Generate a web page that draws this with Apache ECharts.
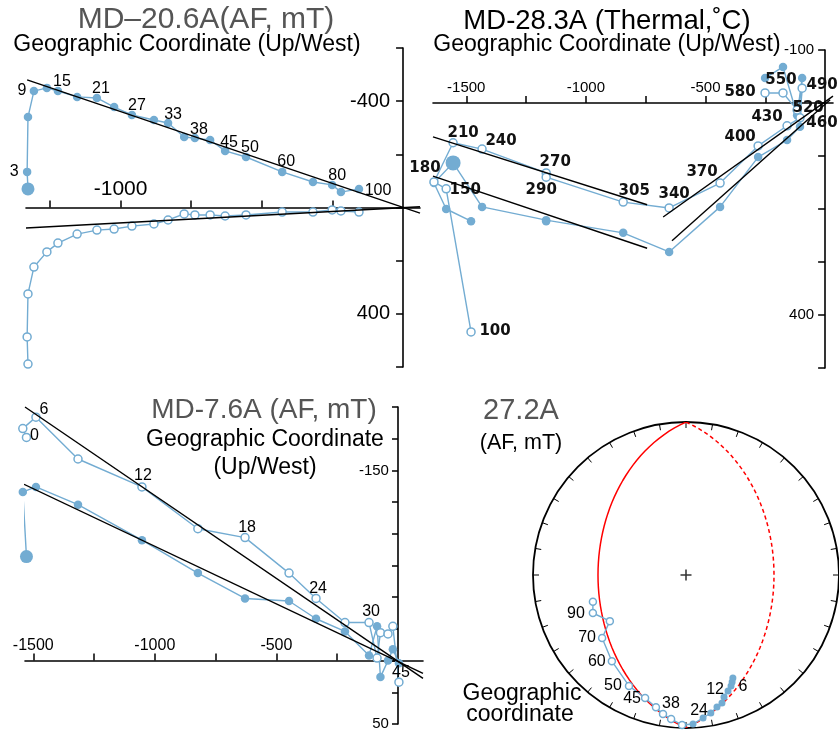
<!DOCTYPE html>
<html><head><meta charset="utf-8">
<script src="https://cdn.jsdelivr.net/npm/echarts@6/dist/echarts.min.js"></script>
<style>html,body{margin:0;padding:0;background:#fff}#c{width:839px;height:733px}</style>
</head><body><div id="c"></div>
<script>
// ---------- Panel 1: MD-20.6A (AF, mT) ----------
const p1Steps = [0,3,6,9,12,15,18,21,24,27,30,33,35,38,40,45,50,60,70,80,90,100];
const p1X = [-1328,-1331,-1328,-1307,-1261,-1222,-1154,-1084,-1023,-960,-882,-832,-775,-737,-683,-630,-556,-428,-319,-251,-220,-156];
const p1H = [-70,-134,-340,-438,-450,-438,-416,-412,-378,-348,-329,-318,-265,-261,-254,-213,-190,-134,-96,-85,-58,-70];
const p1V = [589,487,325,224,167,134,100,85,81,70,62,47,24,28,28,32,28,17,17,9,13,17];
const p1Labeled = [3,9,15,21,27,33,38,45,50,60,80,100];
const p1FitH = [[-1331,-480],[60,21]];
const p1FitV = [[-1335,77],[60,-3]];
const p1XTicks = [-1250,-1000,-750,-500,-250];
const p1XLabels = [-1000];
const p1YLabels = [-400,400];

// ---------- Panel 2: MD-28.3A (Thermal, C) ----------
const p2Steps = [100,150,180,210,240,270,290,305,340,370,400,430,460,490,520,550,580];
const p2X = [-1480,-1584,-1635,-1555,-1434,-1166,-1166,-844,-652,-439,-280,-159,-105,-96,-117,-176,-251];
const p2H = [223,200,151,113,196,221,223,245,281,196,102,70,45,-47,23,-68,-47];
const p2V = [432,162,149,75,87,132,140,187,198,151,81,43,28,-28,13,-19,-19];
const p2Fits = [
  [[-1639,64],[-744,192]],
  [[-1639,138],[-744,274]],
  [[-677,215],[33,-13]],
  [[-640,260],[21,-6]]
];
const p2XTicks = [-1500,-1250,-1000,-750,-500,-250];
const p2XLabels = [-1500,-1000,-500];
const p2YLabels = [-100,400];

// ---------- Panel 3: MD-7.6A (AF, mT) ----------
const p3Steps = [0,3,6,9,12,15,18,21,24,27,30,33,36,39,42,45];
const p3X = [-1528,-1543,-1489,-1316,-1053,-823,-629,-448,-337,-218,-119,-86,-72,-41,-21,4];
const p3H = [-82,-133,-137,-123,-95,-69,-49,-47,-33,-23,-4,-27,13,0,-9,2];
const p3V = [-176,-183,-192,-159,-137,-104,-97,-69,-49,-30,-30,-2,-22,-21,-27,17];
const p3Labeled = [0,6,12,18,24,30,45];
const p3FitV = [[-1534,-200],[103,14]];
const p3FitH = [[-1538,-139],[103,10]];
const p3XTicks = [-1500,-1250,-1000,-750,-500,-250];
const p3XLabels = [-1500,-1000,-500];
const p3YLabels = [-150,50];

// ---------- Panel 4: 27.2A stereonet (declination, inclination) ----------
const sDec = [155.5,156.7,157.9,160.1,162.7,164.3,166.8,169.8,173.2,177.3,181.5,185.9,189.4,192.8,198.4,207.2,220.7,233.1,238.8,247.8,253.9];
const sInc = [27.0,24.8,22.8,20.4,17.6,14.2,12.4,9.2,6.6,2.8,-2.2,-6.0,-8.8,-12.4,-16.4,-19.6,-26.6,-32.0,-41.4,-34.6,-36.8];
const sLabels = ['6','','','12','','','','','24','','','','38','','45','50','60','70','','90',''];
const planeStrike = 0, planeDip = 42;

// ---------- styles / layout ----------
const BLUE = '#73acd2';
const FONT = '"Liberation Sans", Arial, Helvetica, sans-serif';
const grids = [
  { left: 26, top: 48, width: 394, height: 319 },
  { left: 433, top: 50, width: 400, height: 318 },
  { left: 25, top: 407, width: 398, height: 317 }
];
const ranges = [
  { x: [-1335, 60], y: [-600, 600] },
  { x: [-1639, 33], y: [-100, 500] },
  { x: [-1534, 103], y: [-200, 50] }
];
const p1Off = {3:[-13,0],9:[-12,0],15:[4,-9],21:[4,-9],27:[5,-9],33:[5,-8],38:[4,-9],45:[4,-8],50:[4,-9],60:[4,-10],80:[5,-9],100:[19,2]};
const p2Off = {100:[24,-1],150:[19,1],180:[-9,-14],210:[10,-10],240:[19,-8],270:[9,-11],290:[-5,13],305:[11,-11],340:[5,-14],370:[-18,-11],400:[-18,-9],430:[-20,-9],460:[22,5],490:[20,-3],520:[11,-2],550:[-2,-13],580:[-25,-1]};
const p3Off = {0:[8,-2],6:[8,-8],12:[1,-11],18:[2,-10],24:[2,-10],30:[2,-11],45:[2,-10]};
const sOff = {0:[10,9],3:[-13,-2],8:[-4,-7],12:[8,-10],14:[-13,1],15:[-16,0],16:[-15,0],17:[-15,0],19:[-17,1]};

function items(X, Y, steps, offs, lblStyle, bigIdx, bigSize) {
  return X.map((x, i) => {
    const it = { value: [x, Y[i]] };
    const s = steps[i];
    if (offs && offs[s] !== undefined) {
      it.label = Object.assign({ show: true, formatter: String(s), position: 'inside', offset: offs[s] }, lblStyle);
    }
    if (i === bigIdx) it.symbolSize = bigSize;
    return it;
  });
}
function zip(X, Y) { return X.map((x, i) => [x, Y[i]]); }

const lbl16 = { color: '#000', fontSize: 16, fontFamily: FONT };
const lblBold = { color: '#111', fontSize: 15, fontWeight: 'bold', fontFamily: '"DejaVu Sans", Verdana, sans-serif' };

function pathSeries(idx, X, Y) {
  return { type: 'line', xAxisIndex: idx, yAxisIndex: idx, data: zip(X, Y), symbol: 'none', showSymbol: false,
    lineStyle: { color: BLUE, width: 1.4 }, z: 2, clip: false, silent: true };
}
function dotSeries(idx, data, filled, size) {
  return { type: 'scatter', xAxisIndex: idx, yAxisIndex: idx, data: data, symbol: 'circle', symbolSize: size,
    itemStyle: filled ? { color: BLUE, opacity: 1 } : { color: '#fff', borderColor: BLUE, borderWidth: 1.5, opacity: 1 },
    z: 3, clip: false, silent: true };
}
function fitSeries(idx, pts) {
  return { type: 'line', xAxisIndex: idx, yAxisIndex: idx, data: pts, symbol: 'none', showSymbol: false,
    lineStyle: { color: '#000', width: 1.4 }, z: 4, clip: false, silent: true };
}
const plain = v => String(v);
// axes are shifted (offset) so that they cross at the data origin, like a Zijderveld diagram
function xAx(idx, ticks, labels, fs, margin) {
  const g = grids[idx], r = ranges[idx];
  const zeroFromTop = (0 - r.y[0]) / (r.y[1] - r.y[0]) * g.height;
  return { gridIndex: idx, type: 'value', min: r.x[0], max: r.x[1], position: 'bottom',
    offset: -(g.height - zeroFromTop),
    axisLine: { show: true, onZero: false, lineStyle: { color: '#000', width: 1.6 } },
    axisTick: { show: true, inside: true, length: 7, customValues: ticks, lineStyle: { color: '#000', width: 1.5 } },
    axisLabel: { show: true, inside: true, customValues: labels, formatter: plain, margin: margin, fontSize: fs, color: '#000', fontFamily: FONT },
    splitLine: { show: false } };
}
function yAx(idx, interval, labels, fs, margin, tickLen) {
  const g = grids[idx], r = ranges[idx];
  const zeroFromLeft = (0 - r.x[0]) / (r.x[1] - r.x[0]) * g.width;
  return { gridIndex: idx, type: 'value', inverse: true, min: r.y[0], max: r.y[1], interval: interval, position: 'left',
    offset: -zeroFromLeft,
    axisLine: { show: true, onZero: false, lineStyle: { color: '#000', width: 1.6 } },
    axisTick: { show: true, length: tickLen, lineStyle: { color: '#000', width: 1.5 } },
    axisLabel: { show: true, customValues: labels, formatter: plain, margin: margin, fontSize: fs, color: '#000', fontFamily: FONT },
    splitLine: { show: false } };
}

// stereonet helpers (equal-area projection)
const D2R = Math.PI / 180;
function eaR(inc) { return Math.SQRT2 * Math.sin((90 - Math.abs(inc)) / 2 * D2R); }
function greatCircle(upper) {
  const out = [];
  for (let t = 0; t <= 180; t += 3) {
    const n = Math.cos(t * D2R);
    const e = (upper ? 1 : -1) * Math.sin(t * D2R) * Math.cos(planeDip * D2R);
    const d = Math.sin(t * D2R) * Math.sin(planeDip * D2R);
    const dec = (Math.atan2(e, n) / D2R + planeStrike + 360) % 360;
    const inc = Math.asin(d) / D2R;
    out.push([eaR(inc), dec]);
  }
  return out;
}
const sPts = sDec.map((d, i) => [eaR(sInc[i]), d]);
function sItems(filled) {
  const arr = [];
  sPts.forEach((p, i) => {
    if ((sInc[i] >= 0) !== filled) return;
    const it = { value: p };
    if (sLabels[i]) it.label = Object.assign({ show: true, formatter: sLabels[i], position: 'inside', offset: sOff[i] }, lbl16);
    arr.push(it);
  });
  return arr;
}

const txt = (x, y, text, size, color) => ({ type: 'text', x: x, y: y, silent: true,
  style: { text: text, font: size + 'px ' + FONT, fill: color, align: 'center', verticalAlign: 'middle', textAlign: 'center', textVerticalAlign: 'middle' } });

const chart = echarts.init(document.getElementById('c'), null, { renderer: 'canvas' });
chart.setOption({
  animation: false,
  backgroundColor: '#fff',
  grid: grids.map(g => Object.assign({ containLabel: false, outerBoundsMode: 'none' }, g)),
  xAxis: [
    xAx(0, p1XTicks, p1XLabels, 21, 8),
    xAx(1, p2XTicks, p2XLabels, 15, 8),
    xAx(2, p3XTicks, p3XLabels, 16, 7)
  ],
  yAxis: [
    yAx(0, 200, p1YLabels, 20, 13, 7),
    yAx(1, 100, p2YLabels, 15, 11, 7),
    yAx(2, 25, p3YLabels, 15, 9, 6)
  ],
  polar: { center: [686, 575], radius: 153 },
  angleAxis: { polarIndex: 0, type: 'value', min: 0, max: 360, interval: 10, startAngle: 90, clockwise: true,
    axisLine: { show: true, lineStyle: { color: '#000', width: 1.8 } },
    axisTick: { show: true, inside: true, length: 6, lineStyle: { color: '#000', width: 1 } },
    axisLabel: { show: false }, splitLine: { show: false } },
  radiusAxis: { polarIndex: 0, type: 'value', min: 0, max: 1, axisLine: { show: false }, axisTick: { show: false },
    axisLabel: { show: false }, splitLine: { show: false } },
  series: [
    // panel 1
    pathSeries(0, p1X, p1H), pathSeries(0, p1X, p1V),
    dotSeries(0, items(p1X, p1H, p1Steps, Object.fromEntries(p1Labeled.map(s => [s, p1Off[s]])), lbl16, 0, 13), true, 8.5),
    dotSeries(0, zip(p1X, p1V), false, 8),
    fitSeries(0, p1FitH), fitSeries(0, p1FitV),
    // panel 2
    pathSeries(1, p2X, p2H), pathSeries(1, p2X, p2V),
    dotSeries(1, items(p2X, p2H, p2Steps, null, null, 3, 15), true, 8.5),
    dotSeries(1, items(p2X, p2V, p2Steps, p2Off, lblBold, -1, 0), false, 8),
    ...p2Fits.map(f => fitSeries(1, f)),
    // panel 3
    pathSeries(2, p3X, p3H), pathSeries(2, p3X, p3V),
    dotSeries(2, items(p3X, p3H, p3Steps, null, null, 0, 13), true, 8.5),
    dotSeries(2, items(p3X, p3V, p3Steps, Object.fromEntries(p3Labeled.map(s => [s, p3Off[s]])), lbl16, -1, 0), false, 8),
    fitSeries(2, p3FitV), fitSeries(2, p3FitH),
    // panel 4 stereonet
    { type: 'line', coordinateSystem: 'polar', polarIndex: 0, data: greatCircle(false), symbol: 'none', showSymbol: false,
      lineStyle: { color: '#ff0000', width: 1.5 }, z: 2, silent: true, clip: false },
    { type: 'line', coordinateSystem: 'polar', polarIndex: 0, data: greatCircle(true), symbol: 'none', showSymbol: false,
      lineStyle: { color: '#ff0000', width: 1.5, type: [4, 3] }, z: 2, silent: true, clip: false },
    { type: 'line', coordinateSystem: 'polar', polarIndex: 0, data: sPts, symbol: 'none', showSymbol: false,
      lineStyle: { color: BLUE, width: 1.4 }, z: 3, silent: true, clip: false },
    { type: 'scatter', coordinateSystem: 'polar', polarIndex: 0, data: sItems(true), symbol: 'circle', symbolSize: 7,
      itemStyle: { color: BLUE, opacity: 1 }, z: 4, silent: true, clip: false },
    { type: 'scatter', coordinateSystem: 'polar', polarIndex: 0, data: sItems(false), symbol: 'circle', symbolSize: 7,
      itemStyle: { color: '#fff', borderColor: BLUE, borderWidth: 1.5, opacity: 1 }, z: 4, silent: true, clip: false },
    { type: 'scatter', coordinateSystem: 'polar', polarIndex: 0, data: [[0, 0]],
      symbol: 'path://M4.3,0h1.4v4.3h4.3v1.4h-4.3v4.3h-1.4v-4.3h-4.3v-1.4h4.3z', symbolSize: 11,
      itemStyle: { color: '#000' }, z: 5, silent: true }
  ],
  graphic: [
    txt(206, 20, 'MD–20.6A(AF, mT)', 30, '#555'),
    txt(187, 45, 'Geographic Coordinate (Up/West)', 23, '#000'),
    txt(607, 21, 'MD-28.3A (Thermal,˚C)', 27.5, '#000'),
    txt(607, 45, 'Geographic Coordinate (Up/West)', 23, '#000'),
    txt(264, 410, 'MD-7.6A (AF, mT)', 28, '#555'),
    txt(265, 440, 'Geographic Coordinate', 23, '#000'),
    txt(265, 468, '(Up/West)', 23, '#000'),
    txt(521, 411, '27.2A', 29, '#555'),
    txt(521, 443, '(AF, mT)', 21.5, '#000'),
    txt(522, 694, 'Geographic', 23, '#000'),
    txt(520, 715, 'coordinate', 23, '#000')
  ]
});
</script></body></html>
